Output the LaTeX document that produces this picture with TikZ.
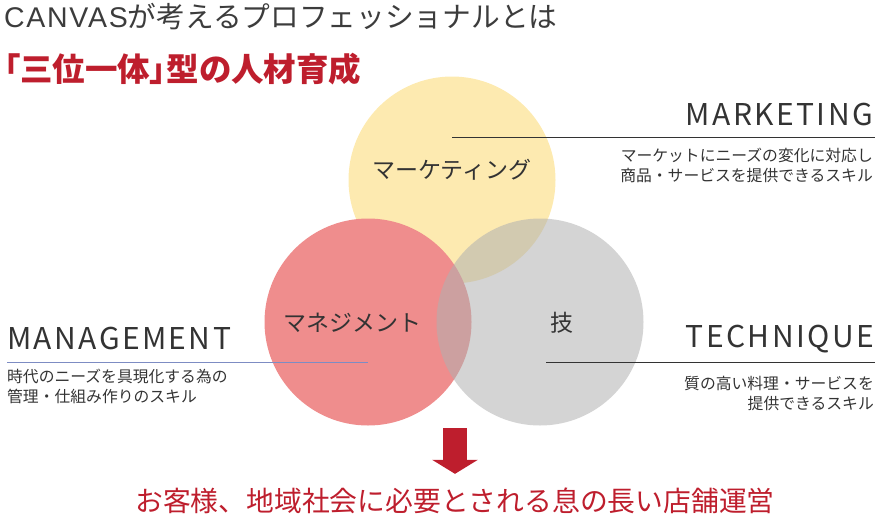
\documentclass[tikz,border=0pt]{standalone}
\usepackage{fontspec}
\setmainfont{Noto Sans CJK JP}
\newfontfamily\latinfont[LetterSpace=6]{Liberation Sans}
\newfontfamily\headfont[LetterSpace=8]{Noto Sans CJK JP}
\newfontfamily\paltfont[RawFeature=+palt]{Noto Sans CJK JP}
\usetikzlibrary{arrows.meta}
\usetikzlibrary{positioning}
\definecolor{canvasred}{RGB}{190,30,45}
\definecolor{titlegray}{RGB}{60,60,60}
\definecolor{textdark}{RGB}{51,51,51}
\definecolor{mktyellow}{RGB}{253,234,176}
\definecolor{mgtred}{RGB}{239,141,141}
\definecolor{techgray}{RGB}{176,176,176}
\definecolor{mgtblue}{RGB}{125,140,195}
\tikzset{
	skill/.style={circle, minimum size=207pt, inner sep=0pt},
	heading/.style={inner sep=0pt, text=textdark, font=\headfont\fontsize{30}{30}\selectfont},
	desc/.style={inner sep=0pt, text=textdark, font=\fontsize{15.8}{20}\selectfont},
	inlabel/.style={inner sep=0pt, text=textdark, font=\fontsize{23}{23}\selectfont},
	rule/.style={draw=textdark, line width=0.9pt},
	bigarrow/.style={draw=canvasred, line width=24pt, -{Triangle[width=45pt, length=14pt]}}
}

\begin{document}
\begin{tikzpicture}[x=1pt, y=-1pt]
\useasboundingbox (0,0) rectangle (880,515);

% titles
\node[inner sep=0pt, anchor=west, text=titlegray, font=\fontsize{28.7}{28.7}\selectfont] (title) at (4,17)
	{{\latinfont\fontsize{28.5}{28}\selectfont CANVAS}が考えるプロフェッショナルとは};
\node[inner sep=0pt, anchor=west, text=canvasred, font=\paltfont\bfseries\fontsize{32.5}{32.5}\selectfont] (subtitle) at (4,69)
	{「三位一体」型の人材育成};

% circles
\node[skill, fill=mktyellow] (mkt) at (452,180) {};
\node[skill, fill=mgtred] (mgt) at (368,322) {};
\node[skill, fill=techgray, fill opacity=0.55] (tech) at (540,322) {};

% rules
\coordinate (mktrule) at (875,137);
\coordinate (mgtrule) at (7,362);
\coordinate (techruleL) at (546,362);
\coordinate (techrule) at (875,362);
\draw [rule] (mkt.center |- mktrule) -- (mktrule);
\draw [rule, draw=mgtblue] (mgtrule) -- (mgt.center |- mgtrule);
\draw [rule] (techruleL) -- (techrule);

% labels in circles
\node[inlabel] (mktlabel) at (452,170) {マーケティング};
\node[inlabel] (mgtlabel) at (352,323) {マネジメント};
\node[inlabel] (techlabel) at (562,323) {技};

% headings and descriptions
\node[heading, anchor=east] (mkthead) at (873,114) {MARKETING};
\node[desc, anchor=east, align=right] (mktdesc) at (873,165)
	{マーケットにニーズの変化に対応し\\商品・サービスを提供できるスキル};

\node[heading, anchor=west] (mgthead) at (7,338) {MANAGEMENT};
\node[desc, anchor=west, align=left] (mgtdesc) at (7,386)
	{時代のニーズを具現化する為の\\管理・仕組み作りのスキル};

\node[heading, anchor=east] (techhead) at (874,339) {TECHNIQUE};
\node[desc, anchor=east, align=right] (techdesc) at (874,393)
	{質の高い料理・サービスを\\提供できるスキル};

% result
\node[inner sep=0pt, text=canvasred, font=\fontsize{27.8}{27.8}\selectfont] (goal) at (455,501)
	{お客様、地域社会に必要とされる息の長い店舗運営};
\coordinate (arrowtop) at (455,428);
\draw [bigarrow, shorten >=14pt] (arrowtop) -- (arrowtop |- goal.north);

\end{tikzpicture}
\end{document}
